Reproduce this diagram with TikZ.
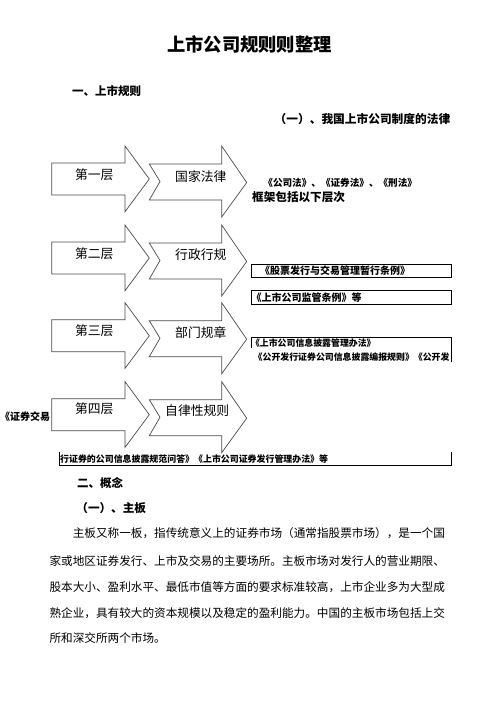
\documentclass[tikz,border=0pt]{standalone}
\usepackage{fontspec}
\setmainfont{Noto Sans CJK SC}
\newcommand\fsz[1]{\fontsize{#1}{#1}\selectfont}
\tikzset{
  arrowshape/.style={draw=black!70, fill=white, line width=0.7pt, line join=miter},
  lbl/.style={inner sep=0pt, anchor=west},
  boxline/.style={draw=black, line width=1pt},
  arrowtxt/.style={inner sep=0pt, anchor=center, font=\fsz{12.8}},
  smallbold/.style={inner sep=0pt, anchor=west, font=\bfseries\fsz{#1}},
  bodytxt/.style={inner sep=0pt, anchor=west, font=\fsz{11.63}},
}
\begin{document}
\begin{tikzpicture}[x=1pt,y=-1pt]
\useasboundingbox[fill=white] (0,0) rectangle (496,702);

% headings
\node[inner sep=0pt, font=\bfseries\fsz{18.3}] (title) at (249.5,44) {上市公司规则则整理};
\node[smallbold=11.5] (h1) at (72,90.7) {一、上市规则};
\node[smallbold=11.7] (h1a) at (274.5,119) {（一）、我国上市公司制度的法律};

% boxes
\draw[boxline] (251.2,264.3) rectangle (451.7,277.7);
\draw[boxline] (251.2,290.3) rectangle (451.7,304.3);
\draw[boxline] (251.2,348) -- (251.2,337.5) -- (451.7,337.5) -- (451.7,361.5);
\draw[boxline] (59.3,451.7) -- (59.3,465) -- (451.7,465) -- (451.7,451.7);

% left cut text
\node[smallbold=10] (sjy) at (0,416.7) {《证券交易};

% arrows
\foreach \T in {146,225,302.7,381.7}{
  \draw[arrowshape] (51.7,\T+17) -- (125,\T+17) -- (125,\T) -- (149.3,\T+33)
     -- (125,\T+65.7) -- (125,\T+49) -- (51.7,\T+49) -- cycle;
  \draw[arrowshape] (149.3,\T+18) -- (221.7,\T+18) -- (221.7,\T) -- (246.7,\T+36.5)
     -- (221.7,\T+71) -- (221.7,\T+54) -- (149.3,\T+54) -- (160,\T+35.5) -- cycle;
}
\node[arrowtxt] (c1) at (94.3,175) {第一层};
\node[arrowtxt] (d1) at (200.8,176.7) {国家法律};
\node[arrowtxt] (c2) at (94.3,253.3) {第二层};
\node[arrowtxt] (d2) at (200.8,254.3) {行政行规};
\node[arrowtxt] (c3) at (94.3,331) {第三层};
\node[arrowtxt] (d3) at (200.8,332.7) {部门规章};
\node[arrowtxt] (c4) at (94.3,409) {第四层};
\node[arrowtxt] (d4) at (197.2,411) {自律性规则};

% right texts
\node[smallbold=9.6] (laws) at (263.2,183) {《公司法》、《证券法》、《刑法》};
\node[smallbold=11.6] (frame) at (252,197) {框架包括以下层次};
\node[smallbold=10] (t1) at (260,271) {《股票发行与交易管理暂行条例》};
\node[smallbold=10] (t2) at (251.5,297.3) {《上市公司监管条例》等};
\node[smallbold=8.9] (t3) at (250.8,343.5) {《上市公司信息披露管理办法》};
\node[smallbold=8.9] (t4) at (253.5,357.3) {《公开发行证券公司信息披露编报规则》《公开发};
\node[smallbold=8.93] (t5) at (60,459.3) {行证券的公司信息披露规范问答》《上市公司证券发行管理办法》等};

% section 2
\node[smallbold=11.5] (h2) at (77,482.7) {二、概念};
\node[smallbold=11.6] (h2a) at (76.2,508) {（一）、主板};

\node[bodytxt] (p1) at (72.6,533.3) {主板又称一板，指传统意义上的证券市场（通常指股票市场），是一个国};
\node[bodytxt] (p2) at (49.3,560.7) {家或地区证券发行、上市及交易的主要场所。主板市场对发行人的营业期限、};
\node[bodytxt] (p3) at (49.3,586.7) {股本大小、盈利水平、最低市值等方面的要求标准较高，上市企业多为大型成};
\node[bodytxt] (p4) at (49.3,612.7) {熟企业，具有较大的资本规模以及稳定的盈利能力。中国的主板市场包括上交};
\node[bodytxt] (p5) at (49.3,638.3) {所和深交所两个市场。};
\end{tikzpicture}
\end{document}
